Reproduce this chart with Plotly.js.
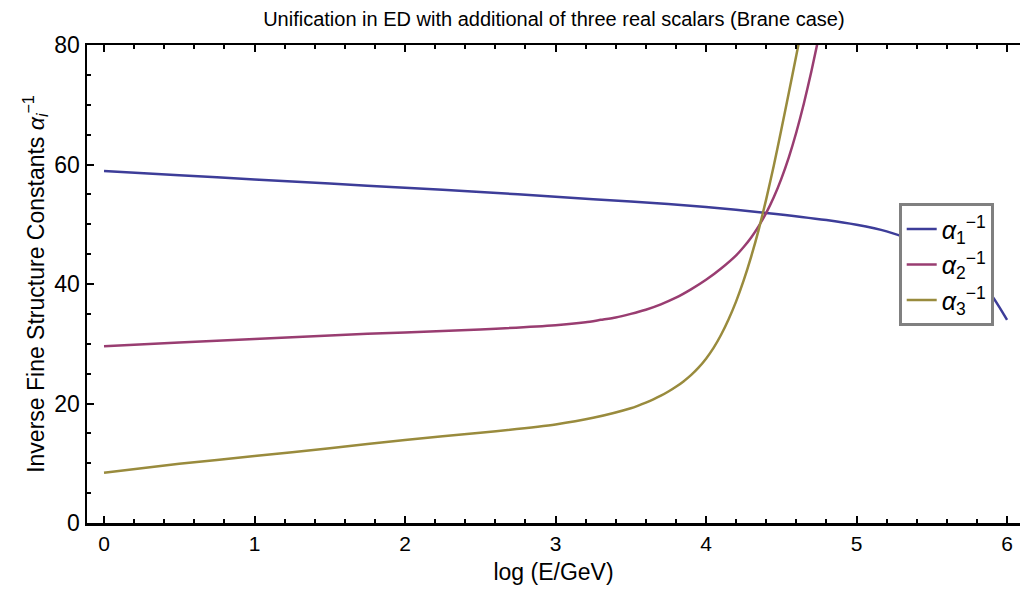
<!DOCTYPE html>
<html>
<head>
<meta charset="utf-8">
<script src="https://cdn.plot.ly/plotly-3.0.1.min.js"></script>
<style>html,body{margin:0;padding:0;background:#fff;}#chart{width:1020px;height:592px;}</style>
</head>
<body>
<div id="chart"></div>
<script>
// Inverse coupling alpha_1^-1
const x1 = [0, 0.5, 1, 1.5, 2, 2.5, 3, 3.5, 4, 4.4, 4.8, 5.0, 5.2, 5.35, 5.5, 5.65, 5.8, 5.9, 6.0];
const y1 = [58.9, 58.2, 57.5, 56.8, 56.1, 55.4, 54.6, 53.8, 52.9, 51.9, 50.7, 49.9, 48.8, 47.5, 45.8, 43.6, 40.5, 38.0, 34.0];
// alpha_2^-1
const x2 = [0, 0.5, 1, 1.5, 2, 2.5, 3, 3.2, 3.3, 3.4, 3.5, 3.6, 3.7, 3.8, 3.9, 4.0, 4.1, 4.2, 4.25, 4.3, 4.35, 4.4, 4.45, 4.5, 4.55, 4.6, 4.65, 4.7, 4.75, 4.8];
const y2 = [29.6, 30.2, 30.8, 31.4, 31.9, 32.4, 33.1, 33.6, 34.0, 34.4, 35.0, 35.7, 36.6, 37.7, 39.1, 40.7, 42.6, 44.8, 46.2, 47.8, 49.7, 51.9, 54.5, 57.6, 61.2, 65.4, 70.2, 75.6, 81.5, 87.7];
// alpha_3^-1
const x3 = [0, 0.5, 1, 1.5, 2, 2.5, 3, 3.25, 3.5, 3.55, 3.6, 3.65, 3.7, 3.75, 3.8, 3.85, 3.9, 3.95, 4.0, 4.05, 4.1, 4.15, 4.2, 4.25, 4.3, 4.35, 4.4, 4.45, 4.5, 4.55, 4.6, 4.65];
const y3 = [8.4, 9.9, 11.2, 12.5, 13.9, 15.1, 16.5, 17.6, 19.2, 19.65, 20.15, 20.7, 21.3, 22.0, 22.8, 23.7, 24.75, 26.0, 27.5, 29.3, 31.5, 34.1, 37.1, 40.6, 44.6, 49.1, 54.2, 59.8, 65.8, 72.0, 78.3, 84.6];

const names = ['<i>α</i><sub>1</sub><sup>−1</sup>', '<i>α</i><sub>2</sub><sup>−1</sup>', '<i>α</i><sub>3</sub><sup>−1</sup>'];
const colors = ['#3D3D99', '#993D71', '#998B3D'];
const xs = [x1, x2, x3], ys = [y1, y2, y3];

const traces = xs.map((x, i) => ({
  x: x, y: ys[i], type: 'scatter', mode: 'lines', name: names[i],
  line: {color: colors[i], width: 2.5, shape: 'spline', smoothing: 0.6}
}));

const font = 'Liberation Sans, Arial, sans-serif';
const layout = {
  width: 1020, height: 592, autosize: false,
  margin: {l: 87, r: 0, t: 45, b: 69},
  paper_bgcolor: '#fff', plot_bgcolor: '#fff',
  font: {family: font, color: '#000'},
  title: {text: 'Unification in ED with additional of three real scalars (Brane case)',
    font: {size: 20, family: font, color: '#000'}, x: 0.543, xref: 'container', y: 0.968, yref: 'container', yanchor: 'middle'},
  xaxis: {range: [-0.113, 6.086], showgrid: false, zeroline: false,
    showline: true, linecolor: '#000', linewidth: 2.5, mirror: 'ticks',
    ticks: 'inside', ticklen: 7, tickwidth: 2, tickcolor: '#000', dtick: 1, tick0: 0,
    minor: {dtick: 0.2, tick0: 0, ticks: 'inside', ticklen: 4, tickwidth: 2, tickcolor: '#000'},
    tickfont: {size: 21, family: font}, title: {text: 'log (E/GeV)', font: {size: 23, family: font}, standoff: 10}},
  yaxis: {range: [0, 80], showgrid: false, zeroline: false,
    showline: true, linecolor: '#000', linewidth: 2.5,
    ticks: 'inside', ticklen: 7, tickwidth: 2, tickcolor: '#000', dtick: 20, tick0: 0,
    minor: {dtick: 5, tick0: 0, ticks: 'inside', ticklen: 4, tickwidth: 2, tickcolor: '#000'},
    tickfont: {size: 23, family: font},
    title: {text: 'Inverse Fine Structure Constants <i>α</i><sub><i>i</i></sub><sup>−1</sup>', font: {size: 23, family: font}, standoff: 4}},
  showlegend: true,
  legend: {x: 0.870, y: 0.669, xanchor: 'left', yanchor: 'top', bgcolor: '#fff',
    bordercolor: '#808080', borderwidth: 3, font: {size: 25, family: font},
    itemwidth: 30, tracegroupgap: 0}
};

Plotly.newPlot('chart', traces, layout, {displayModeBar: false, staticPlot: true});
</script>
</body>
</html>
